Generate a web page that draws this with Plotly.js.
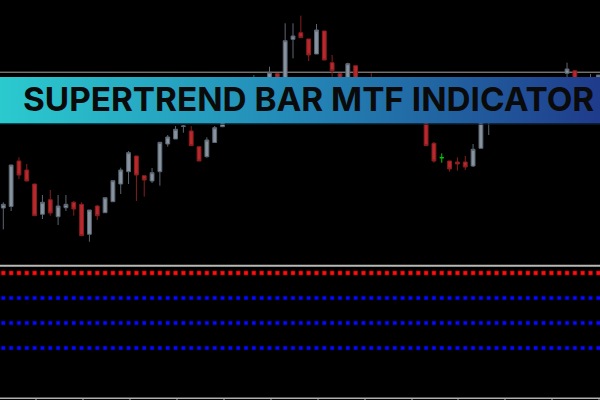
<!DOCTYPE html>
<html>
<head>
<meta charset="utf-8">
<script src="https://cdn.plot.ly/plotly-3.0.1.min.js"></script>
<style>html,body{margin:0;padding:0;background:#000;}#chart{width:600px;height:400px;}</style>
</head>
<body>
<div id="chart"></div>
<script>
// ---- Candles (bar index, OHLC in chart points; bars hidden behind the banner omitted) ----
const barIdx = [0,1,2,3,4,5,6,7,8,9,10,11,12,13,14,15,16,17,18,19,20,21,22,23,24,25,26,27,28,32,34,35,36,37,38,39,40,41,42,43,44,45,47,54,55,57,58,59,60,61,62,72,73,75,76];
const openVals  = [57,58.5,104,95,81,50.7,65.3,48.3,57.3,62.7,60.7,30.7,59,52.3,63.3,81,93.3,109,89.3,84,93.3,121,126,138.5,134,118.3,108.3,122.5,138.3,165,170,191.3,165,225.7,232.3,226,211,234,202.3,191.3,175,199.3,180,160,121.7,104,103,103,99,116.7,150,191.7,194.3,180,175];
const highVals  = [62.7,100,107.7,101,81,70,75,70,70,64,62.7,55,60,67.3,84.3,97.3,114,109,89.3,97,122.7,130,139,140,139,118.3,127.7,139,153,190,198.3,191.3,241.7,241.7,249.3,226,241,234,210,191.3,202.3,199.3,191.7,165,123,104,107.7,109,121,160,165,202.3,194.3,191,190];
const lowVals   = [35.7,54,86,84,49.3,46,49.3,40,54,49.3,29.3,23.3,45,52.3,63.3,71,81,64,68.3,82,79.3,118.3,126,132.3,119.3,104,107.3,122.5,138.3,155,165,170,160,206.7,227.3,204,211,205,185,175,170,165,170,119.3,102.3,93.3,94.3,95,98,116.7,130,187,175,175,170];
const closeVals = [60.7,100,90,84,49.3,62.7,52,59,60.7,56,29.3,55,49.3,67.3,84.3,95,112.3,90,85,92.3,122.7,128,135.7,139,119.3,104,125,137.3,150,175,192.7,175,224.3,229,227.3,210,235,205,194.3,180,201.3,170,175,119.3,104,96,101,98,115.7,155,160,196,180,185,190];

// Doji bar (open == close), drawn in the line-graph colour
const dojiIdx = [56];
const dojiOpen = [107.3], dojiHigh = [111.7], dojiLow = [102.3], dojiClose = [107.3];

// ---- Indicator pane: one row of dots per timeframe ----
const barCount = 77;
const tfLevels = [4, 3, 2, 1];
const tfTrend  = ['down', 'up', 'up', 'up'];
const paneLabel = '0002 2.0000 1.0000 1.0000';
const bannerText = 'SUPERTREND BAR MTF INDICATOR';

const allIdx = [];
for (let i = 0; i < barCount; i++) allIdx.push(i);

const traces = [];
traces.push({
  type: 'candlestick', x: barIdx, open: openVals, high: highVals, low: lowVals, close: closeVals,
  xaxis: 'x', yaxis: 'y', hoverinfo: 'skip',
  increasing: {line: {color: '#5c6672', width: 1}, fillcolor: '#8893a0'},
  decreasing: {line: {color: '#861e1f', width: 1}, fillcolor: '#b9282c'}
});
traces.push({
  type: 'candlestick', x: dojiIdx, open: dojiOpen, high: dojiHigh, low: dojiLow, close: dojiClose,
  xaxis: 'x', yaxis: 'y', hoverinfo: 'skip',
  increasing: {line: {color: '#00cc00', width: 1}, fillcolor: '#00cc00'},
  decreasing: {line: {color: '#00cc00', width: 1}, fillcolor: '#00cc00'}
});
tfLevels.forEach((lv, k) => {
  const down = tfTrend[k] === 'down';
  traces.push({
    type: 'scatter', mode: 'markers', x: allIdx, y: allIdx.map(() => lv),
    xaxis: 'x', yaxis: 'y2', hoverinfo: 'skip',
    marker: down
      ? {symbol: 'square', size: 4, color: '#ff1010', line: {color: '#a00000', width: 0.6}}
      : {symbol: 'square', size: 3.6, color: '#0a0aff', line: {color: '#0000c0', width: 0.5}}
  });
});
// banner (pixel overlay axes)
traces.push({
  type: 'scatter', mode: 'none', x: [0, 600, 600, 0, 0], y: [77, 77, 123.5, 123.5, 77],
  xaxis: 'x3', yaxis: 'y3', fill: 'toself', fillcolor: '#2386b5', hoverinfo: 'skip',
  fillgradient: {type: 'horizontal', colorscale: [[0, '#2bcacf'], [0.5, '#2387b6'], [1, '#1f3b8b']]}
});

const px = x => x / 600, py = y => 1 - y / 400;
const shapes = [
  {type: 'line', xref: 'paper', yref: 'paper', x0: 0, x1: 1, y0: py(72.2), y1: py(72.2), layer: 'below', line: {color: '#a6a6a6', width: 1}},
  {type: 'line', xref: 'paper', yref: 'paper', x0: 0, x1: 1, y0: py(124.2), y1: py(124.2), layer: 'above', line: {color: '#0e1c2a', width: 1}},
  {type: 'line', xref: 'paper', yref: 'paper', x0: 0, x1: 1, y0: py(265.8), y1: py(265.8), layer: 'above', line: {color: '#b9b9b9', width: 2}},
  {type: 'line', xref: 'paper', yref: 'paper', x0: 0, x1: 1, y0: py(398.3), y1: py(398.3), layer: 'above', line: {color: '#b0b0b0', width: 1.5}}
];
[36, 83, 130, 177, 224, 271, 318, 365, 412, 458, 505, 552, 599].forEach(t => {
  shapes.push({type: 'line', xref: 'paper', yref: 'paper', x0: px(t), x1: px(t), y0: py(398), y1: 0, layer: 'above', line: {color: '#b0b0b0', width: 1}});
});

const layout = {
  width: 600, height: 400, margin: {l: 0, r: 0, t: 0, b: 0, pad: 0},
  paper_bgcolor: '#000000', plot_bgcolor: 'rgba(0,0,0,0)', showlegend: false,
  xaxis: {domain: [0, 1], range: [-0.421, 76.21], visible: false, rangeslider: {visible: false}, fixedrange: true},
  yaxis: {domain: [0.3375, 1], range: [0, 265], visible: false, fixedrange: true},
  yaxis2: {domain: [0, 0.3375], range: [-1.08, 4.32], visible: false, anchor: 'x', fixedrange: true},
  xaxis3: {domain: [0, 1], range: [0, 600], visible: false, anchor: 'y3', fixedrange: true},
  yaxis3: {domain: [0, 1], range: [400, 0], visible: false, anchor: 'x3', fixedrange: true},
  shapes: shapes,
  annotations: [
    {xref: 'x3', yref: 'y3', x: 308.5, y: 98.5, text: bannerText, showarrow: false, xanchor: 'center', yanchor: 'middle',
     font: {family: 'Inter, Roboto, sans-serif', size: 33.3, weight: 700, color: '#0a0a0a'}},
    {xref: 'x3', yref: 'y3', x: -1, y: 271.5, text: paneLabel, showarrow: false, xanchor: 'left', yanchor: 'middle',
     font: {family: 'Liberation Sans, Arial, sans-serif', size: 7, color: '#d4d4d4'}}
  ]
};

Plotly.newPlot('chart', traces, layout, {staticPlot: true, displayModeBar: false});
</script>
</body>
</html>
